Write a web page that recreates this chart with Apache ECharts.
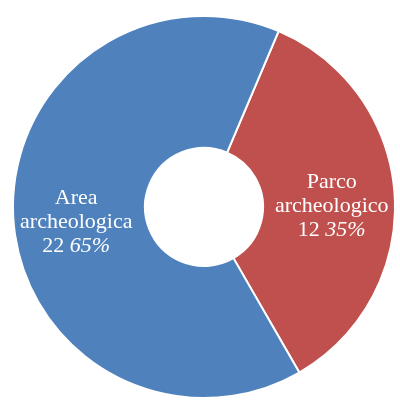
<!DOCTYPE html>
<html>
<head>
<meta charset="utf-8">
<script src="https://cdn.jsdelivr.net/npm/echarts@6/dist/echarts.min.js"></script>
<style>
  html, body { margin: 0; padding: 0; background: #fff; }
  #chart { width: 400px; height: 403px; }
</style>
</head>
<body>
<div id="chart"></div>
<script>
// dati
const categories = ['Parco\narcheologico', 'Area\narcheologica']
const values = [12, 22]
const colors = ['#C0504D', '#4F81BD']

const chart = echarts.init(document.getElementById('chart'))

const total = values.reduce((a, b) => a + b, 0)
const pieData = categories.map((name, i) => ({
  name: name,
  value: values[i],
  itemStyle: { color: colors[i] }
}))

const serif = 'Liberation Serif'

const option = {
  animation: false,
  textStyle: { fontFamily: serif },
  series: [
    {
      type: 'pie',
      center: [204, 207],
      radius: [59, 191],
      startAngle: 67,
      clockwise: true,
      itemStyle: {
        borderColor: '#fff',
        borderWidth: 2
      },
      label: {
        position: 'inside',
        fontFamily: serif,
        fontSize: 22,
        color: '#fff',
        padding: [14, 0, 0, 0],
        formatter: function (p) {
          const pct = Math.round(p.value / total * 100)
          return '{n|' + p.name + '}\n{v|' + p.value + ' }{p|' + pct + '%}'
        },
        rich: {
          n: { fontFamily: serif, fontSize: 22, color: '#fff', lineHeight: 24, align: 'center' },
          v: { fontFamily: serif, fontSize: 22, color: '#fff', lineHeight: 24 },
          p: { fontFamily: serif, fontSize: 22, fontStyle: 'italic', color: '#fff', lineHeight: 24 }
        }
      },
      labelLine: { show: false },
      data: pieData
    }
  ]
}
chart.setOption(option)
</script>
</body>
</html>
